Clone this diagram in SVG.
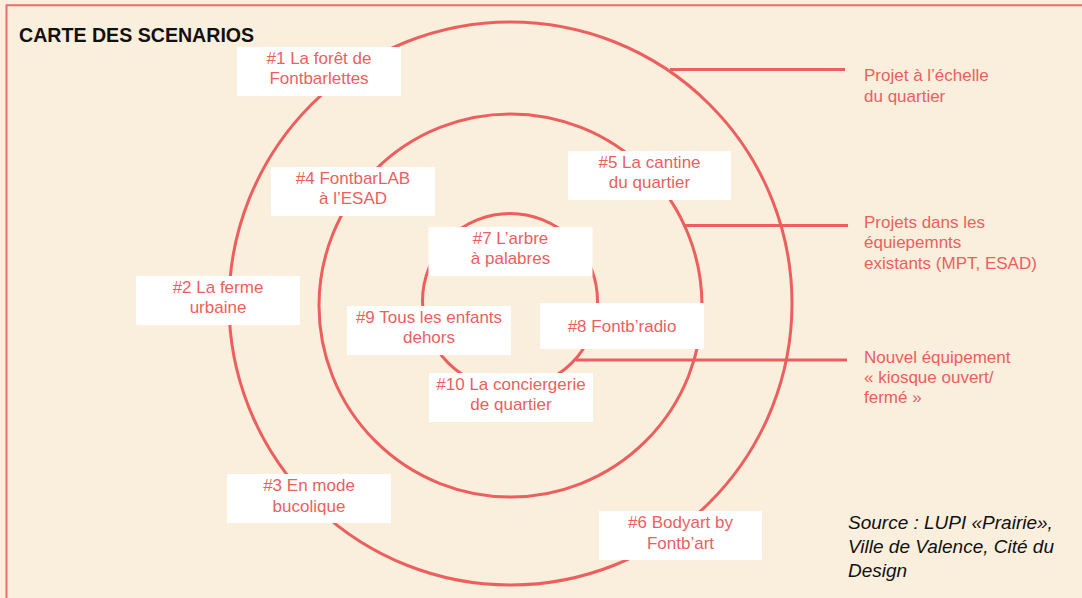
<svg xmlns="http://www.w3.org/2000/svg" width="1082" height="598" viewBox="0 0 1082 598">
<style>
.bg{fill:#FAEEDD}
.frame{fill:none;stroke:#EF6B69;stroke-width:2}
.ring{fill:none;stroke:#EC5F5E;stroke-width:3}
.lead{stroke:#EC5F5E;stroke-width:3}
.box{fill:#FFFFFF}
.t{font-family:"Liberation Sans",Arial,sans-serif;font-size:17px;fill:#EC5F5E;text-anchor:middle}
.r{font-family:"Liberation Sans",Arial,sans-serif;font-size:17px;fill:#EC5F5E}
.title{font-family:"Liberation Sans",Arial,sans-serif;font-size:19.6px;font-weight:bold;fill:#111111}
.src{font-family:"Liberation Sans",Arial,sans-serif;font-size:19px;font-style:italic;fill:#111111}
</style>
<rect class="bg" x="0" y="0" width="1082" height="598"/>
<path class="frame" d="M6.5,598 V5.3 H1082"/>
<text class="title" x="19" y="41.5">CARTE DES SCENARIOS</text>
<g id="rings">
<circle class="ring" cx="510.5" cy="303.5" r="281.5"/>
<circle class="ring" cx="510.5" cy="305.5" r="191.5"/>
<circle class="ring" cx="510" cy="301" r="87.5"/>
</g>
<g id="connectors">
<line class="lead" x1="670" y1="69.5" x2="845" y2="69.5"/>
<line class="lead" x1="683" y1="225.5" x2="848" y2="225.5"/>
<line class="lead" x1="576" y1="360" x2="847" y2="360"/>
</g>
<g id="legend-quartier">
<text class="r" x="864" y="81">Projet à l’échelle</text>
<text class="r" x="864" y="101.5">du quartier</text>
</g>
<g id="legend-equipements">
<text class="r" x="864" y="227.5">Projets dans les</text>
<text class="r" x="864" y="248">équiepemnts</text>
<text class="r" x="864" y="268.5">existants (MPT, ESAD)</text>
</g>
<g id="legend-kiosque">
<text class="r" x="864" y="363">Nouvel équipement</text>
<text class="r" x="864" y="383">« kiosque ouvert/</text>
<text class="r" x="864" y="403">fermé »</text>
</g>
<g id="n1"><rect class="box" x="237" y="47" width="164" height="49"/><text class="t" x="319" y="64">#1 La forêt de</text><text class="t" x="319" y="84.3">Fontbarlettes</text></g>
<g id="n4"><rect class="box" x="271" y="167" width="164" height="49"/><text class="t" x="353" y="184.3">#4 FontbarLAB</text><text class="t" x="353" y="204.3">à l’ESAD</text></g>
<g id="n5"><rect class="box" x="568" y="151" width="163" height="49"/><text class="t" x="649.5" y="168.3">#5 La cantine</text><text class="t" x="649.5" y="188.3">du quartier</text></g>
<g id="n7"><rect class="box" x="428.5" y="227" width="164" height="49"/><text class="t" x="510.5" y="244.3">#7 L’arbre</text><text class="t" x="510.5" y="264.3">à palabres</text></g>
<g id="n2"><rect class="box" x="136" y="276" width="164" height="49"/><text class="t" x="218" y="293">#2 La ferme</text><text class="t" x="218" y="313">urbaine</text></g>
<g id="n9"><rect class="box" x="347" y="306" width="164" height="49"/><text class="t" x="429" y="323.3">#9 Tous les enfants</text><text class="t" x="429" y="343.3">dehors</text></g>
<g id="n8"><rect class="box" x="540" y="303" width="164" height="46"/><text class="t" x="622" y="331.7">#8 Fontb’radio</text></g>
<g id="n10"><rect class="box" x="429" y="373" width="164" height="49"/><text class="t" x="511" y="390">#10 La conciergerie</text><text class="t" x="511" y="410">de quartier</text></g>
<g id="n3"><rect class="box" x="227" y="474" width="164" height="49"/><text class="t" x="309" y="491">#3 En mode</text><text class="t" x="309" y="511.5">bucolique</text></g>
<g id="n6"><rect class="box" x="599" y="511" width="163" height="49"/><text class="t" x="680.5" y="528.3">#6 Bodyart by</text><text class="t" x="680.5" y="549">Fontb’art</text></g>
<g id="source">
<text class="src" x="848" y="529.3">Source : LUPI «Prairie»,</text>
<text class="src" x="848" y="553.3">Ville de Valence, Cité du</text>
<text class="src" x="848" y="576.5">Design</text>
</g>
</svg>
